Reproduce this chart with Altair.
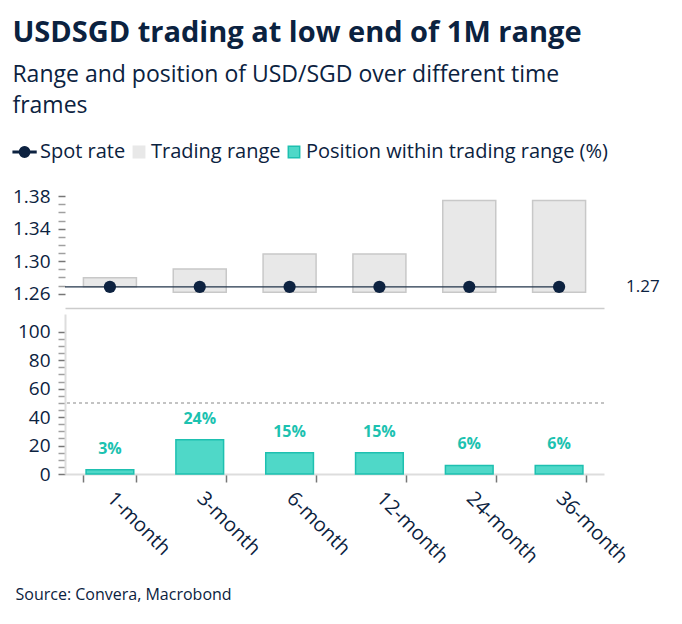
import altair as alt
import pandas as pd

# ---- data ----
categories = ["1-month", "3-month", "6-month", "12-month", "24-month", "36-month"]
range_low = [1.2685, 1.262, 1.262, 1.262, 1.262, 1.262]
range_high = [1.2797, 1.2905, 1.309, 1.309, 1.3745, 1.3745]
spot_rate = [1.2685, 1.2685, 1.2685, 1.2685, 1.2685, 1.2685]
position_pct = [3, 24, 15, 15, 6, 6]
spot_label = "1.27"
top_ticks = [1.26, 1.27, 1.28, 1.29, 1.30, 1.31, 1.32, 1.33, 1.34, 1.35, 1.36, 1.37, 1.38]
bottom_ticks = [0, 5, 10, 15, 20, 25, 30, 35, 40, 45, 50, 55, 60, 65, 70, 75, 80, 85, 90, 95, 100]
midline = [50]
legend_names = ["Spot rate", "Trading range", "Position within trading range (%)"]

df = pd.DataFrame({
    "cat": categories,
    "low": range_low,
    "high": range_high,
    "spot": spot_rate,
    "pos": position_pct,
})
df["pos_label"] = [f"{p}%" for p in position_pct]

FONT = "Open Sans"
NAVY = "#0b2240"
PAD_IN = 0.41
PAD_OUT = 0.205
W = 539

xscale = alt.Scale(domain=categories, paddingInner=PAD_IN, paddingOuter=PAD_OUT)

base = alt.Chart(df)

# ---- top panel ----
top_axis_x = alt.Axis(labels=False, ticks=False, title=None, domainColor="#cccccc",
                      domainWidth=1.5, grid=False)
top_axis_y = alt.Axis(
    values=top_ticks, tickCount=100, title=None, domain=False, grid=False, labelOverlap=False,
    labelExpr="(round(datum.value*100)-126) % 4 == 0 ? format(datum.value, '.2f') : ''",
    tickSize=7, tickWidth=1.5, labelPadding=8,
    tickColor={"condition": {"test": "(round(datum.value*100)-126) % 4 == 0", "value": "#777777"},
               "value": "#a0a0a0"},
    labelFontSize=19, labelColor=NAVY, labelFont=FONT,
)
yscale_top = alt.Scale(domain=[1.2425, 1.39], nice=False, zero=False)

range_bars = base.mark_bar(fill="#e8e8e8", stroke="#c8c8c8", strokeWidth=1.5).encode(
    x=alt.X("cat:N", scale=xscale, axis=top_axis_x, sort=categories),
    y=alt.Y("low:Q", scale=yscale_top, axis=top_axis_y),
    y2="high:Q",
)

rule_df = pd.DataFrame({"end": [categories[-1]], "spot": [spot_rate[-1]]})
spot_rule = alt.Chart(rule_df).mark_rule(color="#22344a", strokeWidth=1.3).encode(
    x=alt.X("end:N", scale=xscale, bandPosition=0.5),
    x2=alt.value(0),
    y=alt.Y("spot:Q", scale=yscale_top),
)

spot_points = base.mark_point(filled=True, size=150, color="#0d2240", opacity=1).encode(
    x=alt.X("cat:N", scale=xscale, sort=categories),
    y=alt.Y("spot:Q", scale=yscale_top),
)

label_df = pd.DataFrame({"cat": [categories[-1]], "spot": [spot_rate[-1]], "txt": [spot_label]})
spot_text = alt.Chart(label_df).mark_text(
    align="left", baseline="middle", dx=67, fontSize=17, font=FONT, color=NAVY
).encode(
    x=alt.X("cat:N", scale=xscale),
    y=alt.Y("spot:Q", scale=yscale_top),
    text="txt:N",
)

legend_df = pd.DataFrame({"name": legend_names})
spot_path = "M-2.6,-0.12H1.4V0.12H-2.6Z M-1.5,0A0.9,0.9 0 1,0 0.3,0A0.9,0.9 0 1,0 -1.5,0Z"
legend_layer = alt.Chart(legend_df).mark_point(filled=True, strokeWidth=1.5, opacity=1).encode(
    shape=alt.Shape("name:N", scale=alt.Scale(domain=legend_names, range=[spot_path, "square", "square"]),
                    legend=alt.Legend(title=None)),
    fill=alt.Fill("name:N", scale=alt.Scale(domain=legend_names, range=["#0d2240", "#e8e8e8", "#4fd8c8"]),
                  legend=alt.Legend(title=None)),
    stroke=alt.Stroke("name:N", scale=alt.Scale(domain=legend_names, range=["#0d2240", "#e8e8e8", "#1ec0b0"]),
                      legend=alt.Legend(title=None)),
).transform_filter("false")

top = alt.layer(range_bars, spot_rule, spot_points, spot_text, legend_layer).properties(width=W, height=120)

# ---- bottom panel ----
bottom_axis_x = alt.Axis(
    title="Source: Convera, Macrobond", titleX=-50, titleY=120, titleAlign="left",
    titleAnchor="start", titleBaseline="middle",
    titleFontSize=16, titleFontWeight="normal", titleColor=NAVY, titleFont=FONT,
    tickBand="extent", tickSize=8, tickWidth=1.5, tickColor="#777777",
    domainColor="#dddddd", domainWidth=2,
    labelAngle=45, labelAlign="left", labelBaseline="top", labelPadding=6, labelOffset=7,
    labelFontSize=20, labelColor=NAVY, labelFont=FONT, grid=False,
)
bottom_axis_y = alt.Axis(
    values=bottom_ticks, tickCount=100, title=None, domain=True, domainColor="#dddddd", domainWidth=2,
    grid=False, labelOverlap=False,
    labelExpr="datum.value % 20 == 0 ? format(datum.value, 'd') : ''",
    tickSize=7, tickWidth=1.5, labelPadding=8,
    tickColor={"condition": {"test": "datum.value % 20 == 0", "value": "#777777"}, "value": "#a0a0a0"},
    labelFontSize=19, labelColor=NAVY, labelFont=FONT,
)
yscale_bot = alt.Scale(domain=[0, 112.5], nice=False)

pos_bars = base.mark_bar(fill="#4fd8c8", stroke="#1ec0b0", strokeWidth=1.5,
                         width=alt.RelativeBandSize(0.9)).encode(
    x=alt.X("cat:N", scale=xscale, axis=bottom_axis_x, sort=categories),
    y=alt.Y("pos:Q", scale=yscale_bot, axis=bottom_axis_y),
)
pos_text = base.mark_text(fontWeight="bold", fontSize=16, font=FONT, color="#1cc2b0",
                          baseline="middle", dy=-21).encode(
    x=alt.X("cat:N", scale=xscale, sort=categories),
    y=alt.Y("pos:Q", scale=yscale_bot),
    text="pos_label:N",
)
mid_rule = alt.Chart(pd.DataFrame({"m": midline})).mark_rule(
    color="#b0b0b0", strokeDash=[3, 3], strokeWidth=1.5
).encode(y=alt.Y("m:Q", scale=yscale_bot))

bottom = alt.layer(mid_rule, pos_bars, pos_text).properties(width=W, height=160)

chart = alt.vconcat(top, bottom, spacing=6).resolve_scale(
    y="independent", fill="independent", stroke="independent", shape="independent"
).properties(
    title=alt.TitleParams(
        text="USDSGD trading at low end of 1M range",
        subtitle=["Range and position of USD/SGD over different time", "frames"],
        anchor="start", frame="bounds", font=FONT, fontSize=29, fontWeight="bold", color=NAVY,
        subtitleFont=FONT, subtitleFontSize=23, subtitleColor=NAVY, subtitleLineHeight=31,
        subtitlePadding=16, offset=24,
    ),
    padding={"left": 12, "top": 19, "right": 5, "bottom": 5},
).configure_view(stroke=None).configure_legend(
    orient="none", legendX=-47, legendY=-46, direction="horizontal",
    labelFont=FONT, labelFontSize=20, labelColor=NAVY, symbolSize=130, labelLimit=0,
    columnPadding=3, labelOffset=2, symbolStrokeWidth=1.5,
)

chart.save("out.html", embed_options={"renderer": "svg", "actions": False})
